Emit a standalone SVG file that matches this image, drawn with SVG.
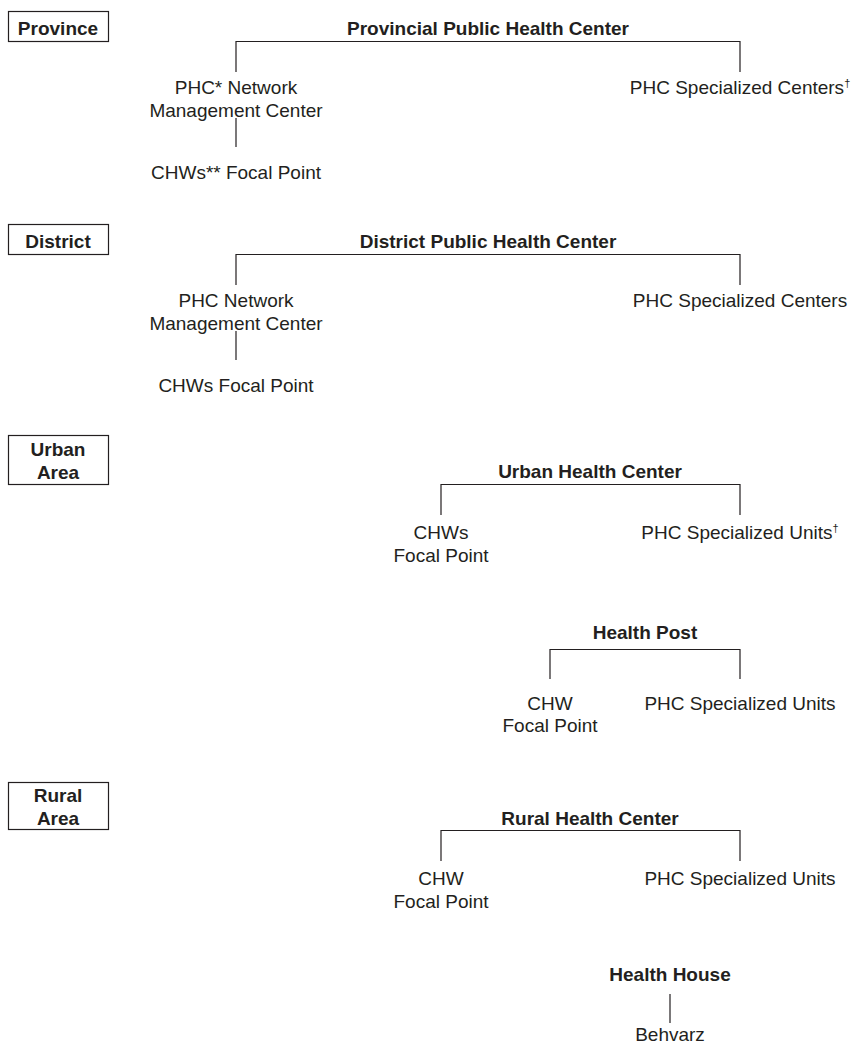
<svg xmlns="http://www.w3.org/2000/svg" width="851" height="1043" viewBox="0 0 851 1043">
<style>
text{font-family:"Liberation Sans",Arial,Helvetica,sans-serif;font-size:19px;fill:#231f20;text-anchor:middle}
.b{font-weight:bold}
.sup{font-size:11px}
.box{fill:none;stroke:#231f20;stroke-width:1.2}
.conn{fill:none;stroke:#231f20;stroke-width:1.2}
</style>
<rect width="851" height="1043" fill="#fff"/>
<g id="connectors">
<path class="conn" d="M236,72V41.5H740V72"/>
<path class="conn" d="M236,118V147"/>
<path class="conn" d="M236,285V254.5H740V285"/>
<path class="conn" d="M236,331V360"/>
<path class="conn" d="M441,515V484.5H740V515"/>
<path class="conn" d="M550,679V649.5H740V679"/>
<path class="conn" d="M441,861V830.5H740V861"/>
<path class="conn" d="M670,994V1023"/>
</g>
<g id="level-province"><rect class="box" x="8.5" y="11.5" width="100" height="30"/><text class="b" x="58" y="35">Province</text></g>
<g id="level-district"><rect class="box" x="8.5" y="224.5" width="100" height="30"/><text class="b" x="58" y="248">District</text></g>
<g id="level-urban"><rect class="box" x="8.5" y="435.5" width="100" height="49"/><text class="b" x="58" y="456">Urban</text><text class="b" x="58" y="479">Area</text></g>
<g id="level-rural"><rect class="box" x="8.5" y="782.5" width="100" height="47"/><text class="b" x="58" y="802">Rural</text><text class="b" x="58" y="825">Area</text></g>

<g id="provincial-phc"><text class="b" x="488" y="35">Provincial Public Health Center</text></g>
<g id="prov-network"><text x="236" y="94">PHC* Network</text><text x="236" y="117">Management Center</text></g>
<g id="prov-specialized"><text x="740" y="94">PHC Specialized Centers<tspan class="sup" dy="-7">†</tspan></text></g>
<g id="prov-chw"><text x="236" y="179">CHWs** Focal Point</text></g>

<g id="district-phc"><text class="b" x="488" y="248">District Public Health Center</text></g>
<g id="dist-network"><text x="236" y="307">PHC Network</text><text x="236" y="330">Management Center</text></g>
<g id="dist-specialized"><text x="740" y="307">PHC Specialized Centers</text></g>
<g id="dist-chw"><text x="236" y="392">CHWs Focal Point</text></g>

<g id="urban-hc"><text class="b" x="590" y="478">Urban Health Center</text></g>
<g id="urban-chw"><text x="441" y="539">CHWs</text><text x="441" y="562">Focal Point</text></g>
<g id="urban-units"><text x="740" y="539">PHC Specialized Units<tspan class="sup" dy="-7">†</tspan></text></g>

<g id="health-post"><text class="b" x="645" y="639">Health Post</text></g>
<g id="post-chw"><text x="550" y="710">CHW</text><text x="550" y="732">Focal Point</text></g>
<g id="post-units"><text x="740" y="710">PHC Specialized Units</text></g>

<g id="rural-hc"><text class="b" x="590" y="825">Rural Health Center</text></g>
<g id="rural-chw"><text x="441" y="885">CHW</text><text x="441" y="908">Focal Point</text></g>
<g id="rural-units"><text x="740" y="885">PHC Specialized Units</text></g>

<g id="health-house"><text class="b" x="670" y="981">Health House</text></g>
<g id="behvarz"><text x="670" y="1041">Behvarz</text></g>
</svg>
